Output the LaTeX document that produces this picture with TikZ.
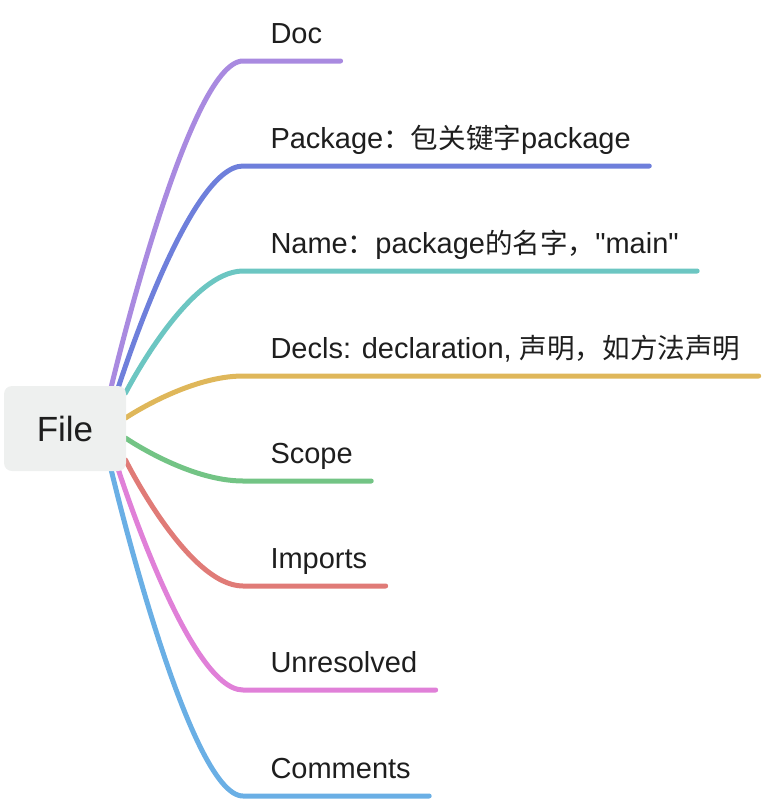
\documentclass[tikz,border=0pt]{standalone}
\usepackage{fontspec}
\setmainfont{Liberation Sans}
\newfontfamily\cjk[Scale=0.95]{Noto Sans CJK SC}
\newcommand{\zh}[1]{{\cjk #1}}
\usetikzlibrary{calc,backgrounds}

\definecolor{cDoc}{RGB}{169,138,224}
\definecolor{cPackage}{RGB}{110,127,219}
\definecolor{cName}{RGB}{108,198,194}
\definecolor{cDecls}{RGB}{223,183,90}
\definecolor{cScope}{RGB}{115,196,133}
\definecolor{cImports}{RGB}{224,123,119}
\definecolor{cUnresolved}{RGB}{224,128,216}
\definecolor{cComments}{RGB}{106,175,229}
\definecolor{rootfill}{RGB}{238,240,239}
\definecolor{ink}{RGB}{30,30,30}

\tikzset{every picture/.style={line width=0.75pt}}
\tikzset{
  rootbox/.style={fill=rootfill, rounded corners=6pt, minimum width=91.5pt, minimum height=63.75pt, inner sep=0, text=ink, font=\fontsize{26.25}{30}\selectfont},
  leaf/.style={anchor=base west, inner sep=0, text=ink, font=\fontsize{21.75}{25}\selectfont},
  branch/.style={line width=3.75pt, line cap=round, draw=#1}
}

\begin{document}
\begin{tikzpicture}[x=0.75pt,y=0.75pt,yscale=-1,xscale=1]
\useasboundingbox (0,0) rectangle (770,800);

%Shape: Rounded Rect [id:root]
\node[rootbox] (root) at (65,428.5) {File};

% Text Node
\node[leaf] (doc) at (270,43) {Doc};
% Text Node
\node[leaf] (package) at (270,148) {Package\zh{：包关键字}package};
% Text Node
\node[leaf] (name) at (270,253) {Name\zh{：}package\zh{的名字，}\textquotedbl main\textquotedbl};
% Text Node
\node[leaf] (decls) at (270,358) {Decls: declaration, \zh{声明，如方法声明}};
% Text Node
\node[leaf] (scope) at (270,463) {Scope};
% Text Node
\node[leaf] (imports) at (270,568) {Imports};
% Text Node
\node[leaf] (unresolved) at (270,672) {Unresolved};
% Text Node
\node[leaf] (comments) at (270,778) {Comments};

\begin{pgfonlayer}{background}
%Curve Lines [id:doc]
\draw[branch=cDoc] ($(root.east)+(-16,-38.5)$) .. controls +(0,0) and +(-55,0) .. ($(doc.base west)+(-27,18)$) -- ($(doc.base east)+(18,18)$);
%Curve Lines [id:package]
\draw[branch=cPackage] ($(root.east)+(-9,-38.5)$) .. controls +(0,0) and +(-55,0) .. ($(package.base west)+(-27,18)$) -- ($(package.base east)+(18,18)$);
%Curve Lines [id:name]
\draw[branch=cName] ($(root.east)+(-1,-35.5)$) .. controls +(0,0) and +(-55,0) .. ($(name.base west)+(-27,18)$) -- ($(name.base east)+(18,18)$);
%Curve Lines [id:decls]
\draw[branch=cDecls] ($(root.east)+(-1,-10.5)$) .. controls +(0,0) and +(-55,0) .. ($(decls.base west)+(-27,18)$) -- ($(decls.base east)+(18,18)$);
%Curve Lines [id:scope]
\draw[branch=cScope] ($(root.east)+(-1,9.5)$) .. controls +(0,0) and +(-55,0) .. ($(scope.base west)+(-27,18)$) -- ($(scope.base east)+(18,18)$);
%Curve Lines [id:imports]
\draw[branch=cImports] ($(root.east)+(-1,31.5)$) .. controls +(0,0) and +(-55,0) .. ($(imports.base west)+(-27,18)$) -- ($(imports.base east)+(18,18)$);
%Curve Lines [id:unresolved]
\draw[branch=cUnresolved] ($(root.east)+(-9,38.5)$) .. controls +(0,0) and +(-55,0) .. ($(unresolved.base west)+(-27,18)$) -- ($(unresolved.base east)+(18,18)$);
%Curve Lines [id:comments]
\draw[branch=cComments] ($(root.east)+(-16,38.5)$) .. controls +(0,0) and +(-55,0) .. ($(comments.base west)+(-27,18)$) -- ($(comments.base east)+(18,18)$);
\end{pgfonlayer}

\end{tikzpicture}
\end{document}
